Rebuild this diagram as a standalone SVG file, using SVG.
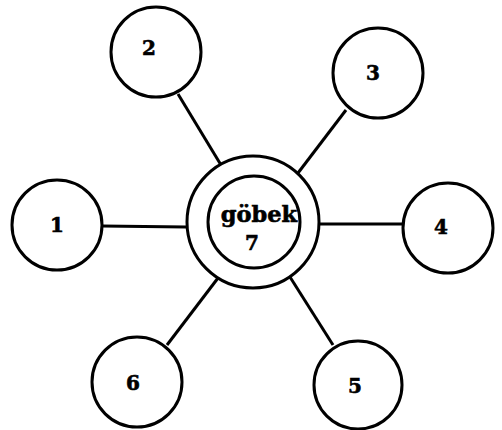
<svg xmlns="http://www.w3.org/2000/svg" width="502" height="430" viewBox="0 0 502 430">
<style>
.n{fill:#fff;stroke:#000;stroke-width:3}
.e{stroke:#000;stroke-width:3;fill:none}
.t{font-family:"DejaVu Serif",serif;font-weight:bold;font-size:20px;fill:#000;stroke:#000;stroke-width:0.6;text-anchor:middle}
</style>
<rect width="502" height="430" fill="#fff"/>
<g id="connectors">
<line class="e" x1="102" y1="226" x2="186" y2="227"/>
<line class="e" x1="318" y1="224" x2="404" y2="224"/>
<line class="e" x1="178" y1="94" x2="221" y2="165"/>
<line class="e" x1="346" y1="110" x2="298" y2="173"/>
<line class="e" x1="218" y1="278" x2="167" y2="345"/>
<line class="e" x1="290" y1="277" x2="333" y2="345"/>
</g>
<g id="node7">
<circle class="n" cx="253" cy="222" r="66"/>
<circle class="n" cx="254" cy="222" r="46"/>
<text class="t" x="259" y="222" style="font-size:22.5px">göbek</text>
<text class="t" x="252" y="250">7</text>
</g>
<g id="node1"><circle class="n" cx="57" cy="225" r="45"/><text class="t" x="57" y="232">1</text></g>
<g id="node2"><circle class="n" cx="156" cy="52" r="45"/><text class="t" x="149" y="55">2</text></g>
<g id="node3"><circle class="n" cx="378" cy="73" r="45"/><text class="t" x="373" y="80">3</text></g>
<g id="node4"><circle class="n" cx="448" cy="228" r="45"/><text class="t" x="441" y="234">4</text></g>
<g id="node5"><circle class="n" cx="358" cy="385" r="44"/><text class="t" x="355" y="393">5</text></g>
<g id="node6"><circle class="n" cx="137" cy="382" r="45"/><text class="t" x="133" y="390">6</text></g>
</svg>
